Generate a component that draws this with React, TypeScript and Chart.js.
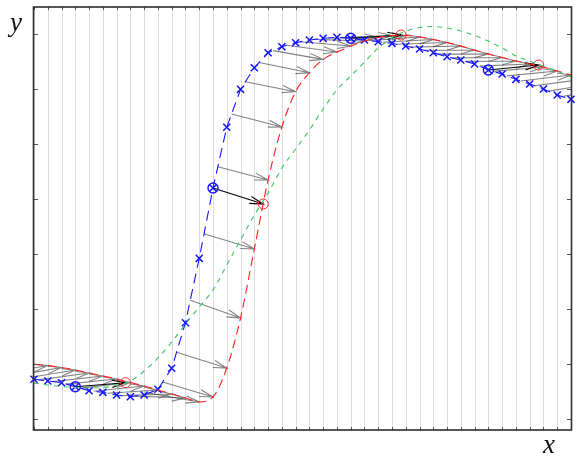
import React, { useEffect, useRef } from "react";
import { Chart, registerables } from "chart.js";

Chart.register(...registerables);

// grid positions along x (one per vertical grid line)
const gridIndex: number[] = Array.from({ length: 40 }, (_, i) => i);
// y tick values (inward tick marks, no labels)
const yTicks: number[] = [0, 1, 2, 3, 4, 5, 6, 7];

// blue: values at grid points (dashed line with x markers)
const blueValues: number[] = [
  0.723, 0.692, 0.661, 0.588, 0.515, 0.486, 0.437, 0.406, 0.437, 0.541,
  0.923, 1.753, 2.925, 4.205, 5.31, 6.001, 6.394, 6.667, 6.777, 6.85,
  6.899, 6.93, 6.948, 6.93, 6.899, 6.868, 6.839, 6.789, 6.735, 6.667,
  6.595, 6.535, 6.462, 6.353, 6.28, 6.183, 6.098, 6.007, 5.898, 5.819,
];

// red: values at grid points (arrow heads land here); last three lie past the right edge
const redValues: number[] = [
  0.996, 0.974, 0.938, 0.892, 0.837, 0.783, 0.728, 0.665, 0.601, 0.528,
  0.455, 0.382, 0.31, 0.401, 0.928, 1.839, 3.095, 4.35, 5.315, 5.958,
  6.303, 6.547, 6.68, 6.789, 6.88, 6.944, 6.98, 6.98, 6.953, 6.908,
  6.853, 6.789, 6.717, 6.644, 6.58, 6.516, 6.462, 6.407, 6.334, 6.262,
  6.189, 6.116, 6.043,
];

// green: smooth reference curve at grid points
const greenValues: number[] = [
  0.655, 0.619, 0.592, 0.574, 0.564, 0.574, 0.61, 0.692, 0.874, 1.111,
  1.402, 1.729, 2.039, 2.348, 2.803, 3.258, 3.713, 4.114, 4.569, 4.915,
  5.261, 5.643, 5.989, 6.243, 6.498, 6.753, 6.935, 7.062, 7.126, 7.144,
  7.117, 7.062, 6.98, 6.88, 6.753, 6.607, 6.516, 6.425, 6.334, 6.225,
];

// highlighted (black) arrows: start at these blue grid points
const circleIndex: number[] = [3, 13, 23, 33];
// ... and end on the red curve at these values
const circleEndValues: number[] = [0.661, 3.914, 6.99, 6.444];
// horizontal travel of every arrow, in grid units
const travel = 3.65;

const Y_MIN = -0.2;
const Y_MAX = 7.5;

function blueAt(t: number): number {
  if (t <= 0) return blueValues[0] + (blueValues[1] - blueValues[0]) * t;
  const n = blueValues.length - 1;
  if (t >= n) return blueValues[n];
  const k = Math.floor(t);
  const f = t - k;
  return blueValues[k] + (blueValues[k + 1] - blueValues[k]) * f;
}

function drawArrow(ctx: CanvasRenderingContext2D, x0: number, y0: number, x1: number, y1: number, L: number, s: number) {
  const ang = Math.atan2(y1 - y0, x1 - x0);
  ctx.beginPath();
  ctx.moveTo(x0, y0);
  ctx.lineTo(x1, y1);
  ctx.moveTo(x1 - L * Math.cos(ang - s), y1 - L * Math.sin(ang - s));
  ctx.lineTo(x1, y1);
  ctx.lineTo(x1 - L * Math.cos(ang + s), y1 - L * Math.sin(ang + s));
  ctx.stroke();
}

const overlay = {
  id: "overlay",
  beforeDatasetsDraw(chart: any) {
    const { ctx, chartArea: a, scales } = chart;
    const xs = scales.x;
    const ys = scales.y;
    ctx.save();
    // vertical grid lines
    ctx.strokeStyle = "#dcdcdc";
    ctx.lineWidth = 1;
    for (const i of gridIndex) {
      const px = Math.round(xs.getPixelForValue(i)) + 0.5;
      ctx.beginPath();
      ctx.moveTo(px, a.top);
      ctx.lineTo(px, a.bottom);
      ctx.stroke();
    }
    ctx.beginPath();
    ctx.rect(a.left, a.top, a.right - a.left, a.bottom - a.top);
    ctx.clip();
    // gray arrows: from departure point on blue to grid point on red
    ctx.strokeStyle = "rgba(55,55,55,0.62)";
    ctx.lineWidth = 1.1;
    for (let i = 0; i < redValues.length; i++) {
      const t = i - travel;
      drawArrow(
        ctx,
        xs.getPixelForValue(t),
        ys.getPixelForValue(blueAt(t)),
        xs.getPixelForValue(i),
        ys.getPixelForValue(redValues[i]),
        14,
        0.26
      );
    }
    // black arrows
    ctx.strokeStyle = "#000";
    ctx.lineWidth = 1.1;
    circleIndex.forEach((ci, k) => {
      drawArrow(
        ctx,
        xs.getPixelForValue(ci),
        ys.getPixelForValue(blueValues[ci]),
        xs.getPixelForValue(ci + travel),
        ys.getPixelForValue(circleEndValues[k]),
        14,
        0.26
      );
    });
    ctx.restore();
  },
  afterDraw(chart: any) {
    const { ctx, chartArea: a, scales } = chart;
    const xs = scales.x;
    const ys = scales.y;
    ctx.save();
    // ticks
    ctx.strokeStyle = "#555";
    ctx.lineWidth = 1;
    for (const i of gridIndex) {
      const px = Math.round(xs.getPixelForValue(i)) + 0.5;
      ctx.beginPath();
      ctx.moveTo(px, a.top);
      ctx.lineTo(px, a.top + 3);
      ctx.moveTo(px, a.bottom);
      ctx.lineTo(px, a.bottom - 3);
      ctx.stroke();
    }
    for (const v of yTicks) {
      const py = Math.round(ys.getPixelForValue(v)) + 0.5;
      ctx.beginPath();
      ctx.moveTo(a.left, py);
      ctx.lineTo(a.left + 4, py);
      ctx.moveTo(a.right, py);
      ctx.lineTo(a.right - 4, py);
      ctx.stroke();
    }
    // frame
    ctx.strokeStyle = "#2e2e2e";
    ctx.lineWidth = 1.6;
    ctx.strokeRect(a.left - 0.5, a.top, a.right - a.left + 1, a.bottom - a.top);
    // axis names
    ctx.fillStyle = "#111";
    ctx.font = 'italic 27px "Liberation Serif", "DejaVu Serif", serif';
    ctx.textBaseline = "alphabetic";
    ctx.textAlign = "left";
    ctx.fillText("y", 10, 31);
    ctx.fillText("x", 543, 453);
    ctx.restore();
  },
};

export default function App() {
  const ref = useRef<HTMLCanvasElement | null>(null);
  useEffect(() => {
    if (!ref.current) return;
    const chart = new Chart(ref.current, {
      type: "line",
      data: {
        datasets: [
          {
            label: "green",
            data: gridIndex.map((i) => ({ x: i, y: greenValues[i] })),
            borderColor: "rgb(60,195,100)",
            borderWidth: 1.1,
            borderDash: [5, 5],
            pointRadius: 0,
            cubicInterpolationMode: "monotone",
            clip: 0,
          },
          {
            label: "red",
            data: redValues.map((v, i) => ({ x: i, y: v })),
            borderColor: "rgb(255,30,30)",
            borderWidth: 1.1,
            borderDash: [9, 5],
            pointRadius: 0,
            cubicInterpolationMode: "monotone",
            clip: 0,
          },
          {
            label: "blue",
            data: gridIndex.map((i) => ({ x: i, y: blueValues[i] })),
            borderColor: "rgb(20,20,255)",
            borderWidth: 1.1,
            borderDash: [10, 6],
            pointStyle: "crossRot",
            pointRadius: 5,
            pointBorderWidth: 1.5,
            pointBorderColor: "rgb(20,20,255)",
            clip: 8,
          },
          {
            label: "blue circles",
            data: circleIndex.map((i) => ({ x: i, y: blueValues[i] })),
            showLine: false,
            pointStyle: "circle",
            pointRadius: 5,
            pointBorderWidth: 1.4,
            pointBorderColor: "rgb(20,20,255)",
            pointBackgroundColor: "rgba(0,0,0,0)",
            clip: 8,
          },
          {
            label: "red circles",
            data: circleIndex.map((i, k) => ({ x: i + travel, y: circleEndValues[k] })),
            showLine: false,
            pointStyle: "circle",
            pointRadius: 5,
            pointBorderWidth: 1,
            pointBorderColor: "rgb(255,40,40)",
            pointBackgroundColor: "rgba(0,0,0,0)",
            clip: 8,
          },
        ],
      },
      options: {
        animation: false,
        responsive: false,
        layout: { padding: { left: 34, right: 10, top: 7, bottom: 36 } },
        plugins: { legend: { display: false }, tooltip: { enabled: false } },
        scales: {
          x: { type: "linear", min: 0, max: 39, display: false },
          y: { type: "linear", min: Y_MIN, max: Y_MAX, display: false },
        },
      },
      plugins: [overlay],
    } as any);
    return () => chart.destroy();
  }, []);
  return (
    <div style={{ position: "absolute", left: 0, top: 0, width: 581, height: 466, background: "#fff" }}>
      <canvas ref={ref} width={581} height={466} />
    </div>
  );
}
